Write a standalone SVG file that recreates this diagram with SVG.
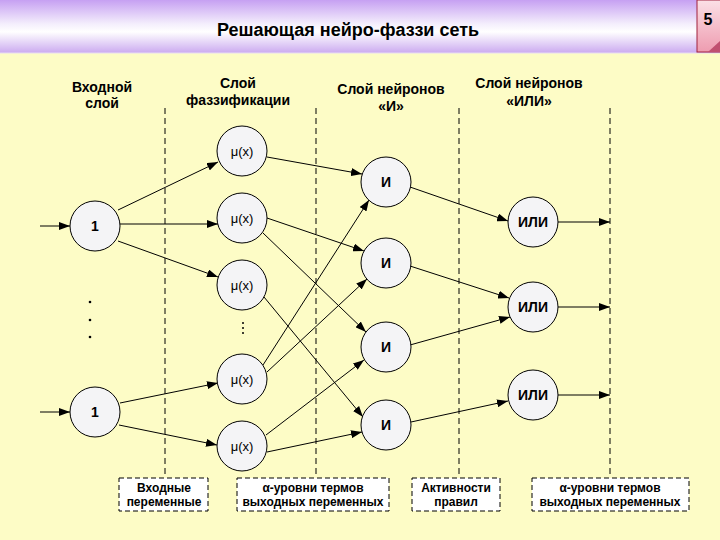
<svg xmlns="http://www.w3.org/2000/svg" width="720" height="540" viewBox="0 0 720 540">
<defs>
<linearGradient id="hdr" x1="0" y1="0" x2="0" y2="1">
<stop offset="0" stop-color="#c6a0f2"/>
<stop offset="0.45" stop-color="#f4eefc"/>
<stop offset="0.6" stop-color="#ffffff"/>
<stop offset="1" stop-color="#cbaaf0"/>
</linearGradient>
<linearGradient id="pg" x1="0" y1="0" x2="0" y2="1">
<stop offset="0" stop-color="#fbe0e6"/>
<stop offset="1" stop-color="#ee9cb0"/>
</linearGradient>
<marker id="ah" markerUnits="userSpaceOnUse" markerWidth="11" markerHeight="8" refX="11" refY="4" orient="auto">
<path d="M0,0 L11,4 L0,8 z" fill="#000"/>
</marker>
<style>
.node{fill:#f4f4f6;stroke:#000;stroke-width:1}
.t{font-family:"Liberation Sans",Arial,sans-serif;fill:#000;text-anchor:middle}
.b{font-weight:bold}
.hd{font-size:14px;font-weight:bold}
.bx{font-size:12px;font-weight:bold}
.dash{stroke:#000;stroke-width:1;stroke-dasharray:6,4;fill:none}
.box{fill:#ffffff;stroke:#000;stroke-width:1;stroke-dasharray:5,3}
.c{stroke:#000;stroke-width:1;fill:none;marker-end:url(#ah)}
</style>
</defs>
<rect x="0" y="0" width="720" height="540" fill="#fdfcc6"/>
<rect x="0" y="0" width="720" height="53" fill="url(#hdr)"/>
<line x1="0" y1="53" x2="720" y2="53" stroke="#e8dcf4" stroke-width="1"/>
<g id="page">
<rect x="697" y="0" width="24" height="52" fill="url(#pg)" stroke="#a0203c" stroke-width="1"/>
<path d="M708,52 L720,41 L720,52 z" fill="#c05070"/>
<text x="708" y="25" class="t b" font-size="16">5</text>
</g>
<text x="348" y="36" class="t b" font-size="18">Решающая нейро-фаззи сеть</text>
<g id="headers">
<text x="102" y="92" class="t hd">Входной</text>
<text x="102" y="108" class="t hd">слой</text>
<text x="238" y="88" class="t hd">Слой</text>
<text x="238" y="105" class="t hd">фаззификации</text>
<text x="391" y="94" class="t hd">Слой нейронов</text>
<text x="391" y="111" class="t hd">«И»</text>
<text x="529" y="88" class="t hd">Слой нейронов</text>
<text x="529" y="106" class="t hd">«ИЛИ»</text>
</g>
<g id="dividers">
<line x1="165" y1="108" x2="165" y2="478" class="dash"/>
<line x1="316" y1="108" x2="316" y2="478" class="dash"/>
<line x1="459" y1="108" x2="459" y2="478" class="dash"/>
<line x1="610" y1="108" x2="610" y2="478" class="dash"/>
</g>
<g id="connectors">
<line x1="40" y1="226" x2="70" y2="226" class="c"/>
<line x1="40" y1="412" x2="70" y2="412" class="c"/>
<line x1="118" y1="210" x2="218" y2="162" class="c"/>
<line x1="120" y1="224" x2="218" y2="224" class="c"/>
<line x1="118" y1="241" x2="218" y2="277" class="c"/>
<line x1="120" y1="403" x2="218" y2="383" class="c"/>
<line x1="119" y1="425" x2="217" y2="445" class="c"/>
<line x1="267" y1="157" x2="362" y2="174" class="c"/>
<line x1="267" y1="218" x2="364" y2="251" class="c"/>
<line x1="263" y1="233" x2="366" y2="332" class="c"/>
<line x1="264" y1="297" x2="363" y2="417" class="c"/>
<line x1="263" y1="365" x2="369" y2="200" class="c"/>
<line x1="267" y1="372" x2="367" y2="279" class="c"/>
<line x1="266" y1="435" x2="364" y2="360" class="c"/>
<line x1="267" y1="452" x2="362" y2="432" class="c"/>
<line x1="410" y1="187" x2="508" y2="221" class="c"/>
<line x1="410" y1="266" x2="509" y2="298" class="c"/>
<line x1="410" y1="345" x2="510" y2="317" class="c"/>
<line x1="411" y1="422" x2="508" y2="401" class="c"/>
<line x1="558" y1="222" x2="610" y2="222" class="c"/>
<line x1="558" y1="307" x2="610" y2="307" class="c"/>
<line x1="558" y1="395" x2="610" y2="395" class="c"/>
</g>
<g id="in1"><circle cx="95" cy="226" r="25" class="node"/><text x="95" y="231" class="t b" font-size="14">1</text></g>
<g id="in2"><circle cx="95" cy="412" r="25" class="node"/><text x="95" y="417" class="t b" font-size="14">1</text></g>
<g id="in-dots" fill="#000"><circle cx="90" cy="302" r="1.3"/><circle cx="90" cy="320" r="1.3"/><circle cx="90" cy="337" r="1.3"/></g>
<g id="mu1"><circle cx="242" cy="151" r="25" class="node"/><text x="242" y="156" class="t" font-size="13">μ(x)</text></g>
<g id="mu2"><circle cx="242" cy="218" r="25" class="node"/><text x="242" y="223" class="t" font-size="13">μ(x)</text></g>
<g id="mu3"><circle cx="242" cy="285" r="25" class="node"/><text x="242" y="290" class="t" font-size="13">μ(x)</text></g>
<g id="mu-dots" fill="#000"><circle cx="243" cy="323" r="1"/><circle cx="243" cy="328" r="1"/><circle cx="243" cy="333" r="1"/></g>
<g id="mu4"><circle cx="242" cy="379" r="25" class="node"/><text x="242" y="384" class="t" font-size="13">μ(x)</text></g>
<g id="mu5"><circle cx="242" cy="446" r="25" class="node"/><text x="242" y="451" class="t" font-size="13">μ(x)</text></g>
<g id="and1"><circle cx="386" cy="182" r="25" class="node"/><text x="386" y="187" class="t b" font-size="14">И</text></g>
<g id="and2"><circle cx="386" cy="263" r="25" class="node"/><text x="386" y="268" class="t b" font-size="14">И</text></g>
<g id="and3"><circle cx="386" cy="347" r="25" class="node"/><text x="386" y="352" class="t b" font-size="14">И</text></g>
<g id="and4"><circle cx="386" cy="425" r="25" class="node"/><text x="386" y="430" class="t b" font-size="14">И</text></g>
<g id="or1"><circle cx="533" cy="222" r="25" class="node"/><text x="533" y="227" class="t b" font-size="14">ИЛИ</text></g>
<g id="or2"><circle cx="533" cy="307" r="25" class="node"/><text x="533" y="312" class="t b" font-size="14">ИЛИ</text></g>
<g id="or3"><circle cx="533" cy="395" r="25" class="node"/><text x="533" y="400" class="t b" font-size="14">ИЛИ</text></g>
<g id="label1"><rect x="119" y="478" width="89" height="33" class="box"/><text x="164" y="492" class="t bx">Входные</text><text x="164" y="506" class="t bx">переменные</text></g>
<g id="label2"><rect x="237" y="478" width="152" height="33" class="box"/><text x="313" y="492" class="t bx">α-уровни термов</text><text x="313" y="506" class="t bx">выходных переменных</text></g>
<g id="label3"><rect x="412" y="478" width="88" height="33" class="box"/><text x="456" y="492" class="t bx">Активности</text><text x="456" y="506" class="t bx">правил</text></g>
<g id="label4"><rect x="532" y="478" width="157" height="33" class="box"/><text x="610" y="492" class="t bx">α-уровни термов</text><text x="610" y="506" class="t bx">выходных переменных</text></g>
</svg>
